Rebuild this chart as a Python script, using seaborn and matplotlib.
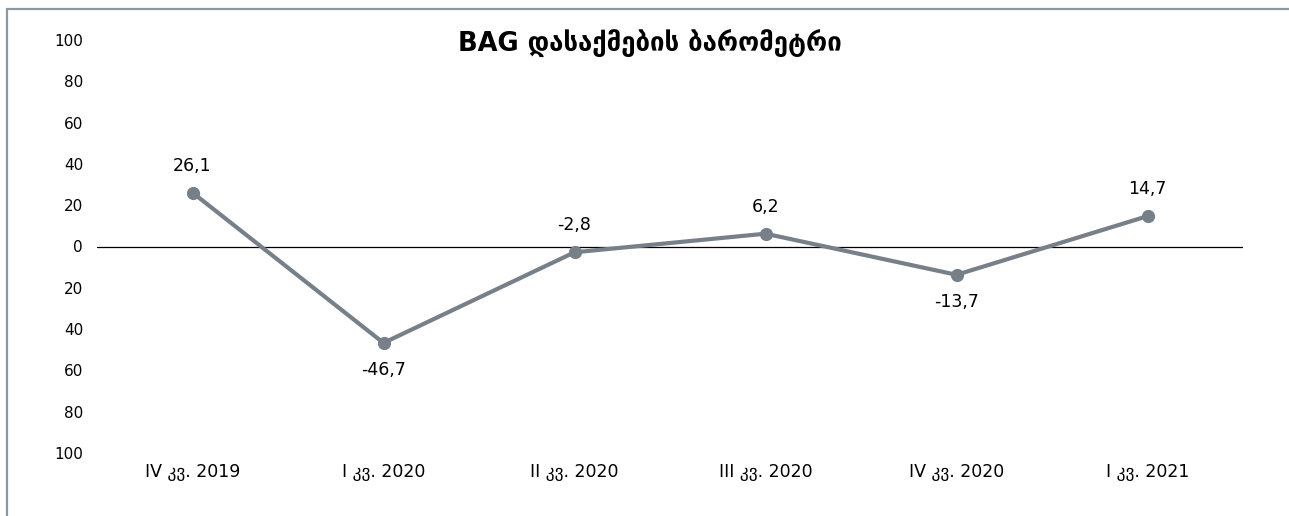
import matplotlib
matplotlib.use('Agg')
import matplotlib.pyplot as plt
import seaborn as sns
import pandas as pd
from matplotlib.lines import Line2D

# Chart data
quarters = ['IV კვ. 2019', 'I კვ. 2020', 'II კვ. 2020', 'III კვ. 2020', 'IV კვ. 2020', 'I კვ. 2021']
barometer = [26.1, -46.7, -2.8, 6.2, -13.7, 14.7]
label_above = [True, False, True, True, False, True]
y_ticks = [-100, -80, -60, -40, -20, 0, 20, 40, 60, 80, 100]

df = pd.DataFrame({'quarter': quarters, 'value': barometer})
df['pos'] = range(len(df))

sns.set_style('white')
plt.rcParams['font.family'] = ['DejaVu Sans']

fig = plt.figure(figsize=(12.89, 5.16), dpi=100)
ax = fig.add_axes([97 / 1289, 1 - 453 / 516, (1243 - 97) / 1289, (453 - 40) / 516])

line_color = '#778089'
sns.lineplot(data=df, x='pos', y='value', ax=ax, color=line_color, linewidth=3.0,
             marker='o', markersize=9.5, markeredgewidth=0, zorder=3)

ax.axhline(0, color='black', linewidth=0.9, zorder=1)

# Data labels (comma decimal separator)
for x, v, above in zip(df['pos'], df['value'], label_above):
    txt = f'{v:.1f}'.replace('.', ',')
    ax.annotate(txt, (x, v), xytext=(0, 13 if above else -13), textcoords='offset points',
                ha='center', va='bottom' if above else 'top', fontsize=12.5, color='black')

ax.set_xlim(-0.5, len(quarters) - 0.5)
ax.set_ylim(-100, 100)
ax.set_xticks(df['pos'])
ax.set_xticklabels(quarters, fontsize=12.5, color='black')
ax.set_yticks(y_ticks)
ax.set_yticklabels([str(abs(t)) for t in y_ticks], fontsize=11, color='black')
ax.tick_params(axis='both', length=0)
ax.tick_params(axis='y', pad=10)
ax.tick_params(axis='x', pad=7)
ax.set_xlabel('')
ax.set_ylabel('')
for s in ax.spines.values():
    s.set_visible(False)

fig.text(650 / 1289, 1 - 44 / 516, 'BAG დასაქმების ბარომეტრი', ha='center', va='center',
         fontsize=18.5, fontweight='bold', color='black')

# Outer chart frame (top and left edges visible)
frame_color = '#8c98a2'
fig.add_artist(Line2D([7 / 1289, 1], [1 - 9 / 516, 1 - 9 / 516], transform=fig.transFigure,
                      color=frame_color, linewidth=1.6))
fig.add_artist(Line2D([7 / 1289, 7 / 1289], [0, 1 - 9 / 516], transform=fig.transFigure,
                      color=frame_color, linewidth=1.6))

fig.savefig('out.png', dpi=100)
